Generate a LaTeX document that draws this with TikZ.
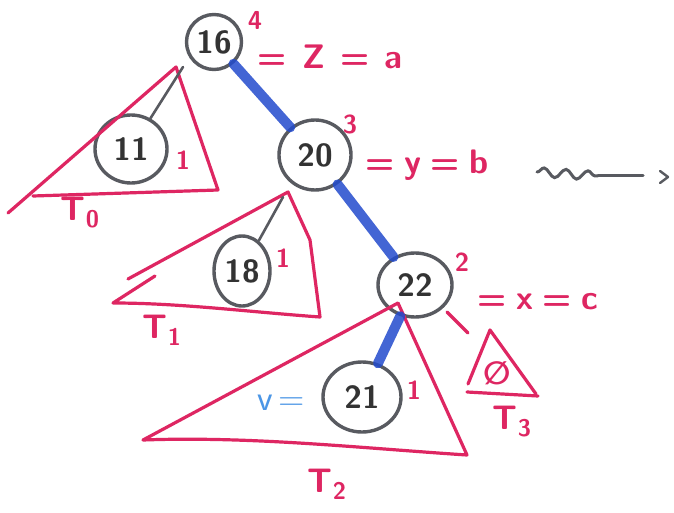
\documentclass[tikz,border=0pt]{standalone}
\usepackage{fontspec}
\newfontfamily\dejavu{DejaVu Sans}
\usetikzlibrary{shapes.geometric,decorations.pathmorphing,arrows.meta}
\definecolor{pinkink}{RGB}{222,38,98}
\definecolor{grayink}{RGB}{88,90,96}
\definecolor{blueink}{RGB}{35,75,205}
\definecolor{lightblueink}{RGB}{75,150,230}
\newcommand{\subidx}[1]{\raisebox{-7pt}{\fontsize{24}{24}\selectfont #1}}
\begin{document}
\begin{tikzpicture}[x=1pt,y=-1pt,
  keynode/.style={ellipse,draw=grayink,line width=3.4pt,inner sep=0pt,
    font=\sffamily\bfseries\fontsize{32}{32}\selectfont,text=black!80},
  treeline/.style={draw=pinkink,line width=3.2pt,line join=round,line cap=round},
  pinklabel/.style={text=pinkink,font=\sffamily\bfseries\fontsize{34}{34}\selectfont,inner sep=0pt},
  expo/.style={text=pinkink,font=\sffamily\bfseries\fontsize{26}{26}\selectfont,inner sep=0pt},
  pathedge/.style={draw=blueink,line width=10pt,line cap=round,opacity=0.85},
  childline/.style={draw=grayink,line width=2.6pt,line cap=round}]
\fill[white] (0,0) rectangle (674,513);
\useasboundingbox (0,0) rectangle (674,513);

% nodes
\node[keynode,minimum width=55pt,minimum height=55pt] (n16) at (214,42) {16};
\node[keynode,minimum width=72pt,minimum height=70pt] (n20) at (315,155) {20};
\node[keynode,minimum width=74pt,minimum height=64pt] (n22) at (415,285) {22};
\node[keynode,minimum width=72pt,minimum height=68pt] (n11) at (131,149) {11};
\node[keynode,minimum width=56pt,minimum height=70pt] (n18) at (242,271) {18};
\node[keynode,minimum width=78pt,minimum height=70pt] (n21) at (362,397) {21};

% subtree triangles
\coordinate (t0a) at (176,67);
\coordinate (t0r) at (218,190);
\coordinate (t0l) at (33,196);
\coordinate (t0e) at (8,213);
\draw[treeline] (t0e) -- (t0a) -- (t0r) -- (t0l);

\coordinate (t1a) at (288,192);
\coordinate (t1r) at (320,317);
\coordinate (t1l) at (113,303);
\draw[treeline] (128,279) -- (t1a) -- (310,240) -- (t1r) .. controls (250,312) and (180,303) .. (t1l) -- (155,276);

\coordinate (t2a) at (398,303);
\coordinate (t2r) at (467,455);
\coordinate (t2l) at (143,440);
\draw[treeline] (t2a) -- (t2l) .. controls (250,436) and (360,448) .. (t2r) -- (t2a);

\coordinate (t3a) at (490,330);
\coordinate (t3r) at (536,394);
\coordinate (t3l) at (468,384);
\draw[treeline] (t3l) -- (t3a) -- (t3r);
\draw[treeline] (467,392) -- (538,396);

% connectors
\draw[pathedge] (n16) -- (n20);
\draw[pathedge] (n20) -- (n22);
\draw[pathedge] (n22) -- (n21);
\draw[childline] (n11) -- (183,67);
\draw[childline] (n18) -- (283,197);
\coordinate (d1) at (447,312);
\coordinate (d2) at (468,333);
\draw[treeline] (d1) -- (d2);

% labels
\node[expo] (e16) at (255,20) {4};
\node[pinklabel] (l16) at (330,57) {=\;\,Z\;\,=\;\,a};
\node[expo] (e20) at (350,124) {3};
\node[pinklabel] (l20) at (427,165) {=\;y\;=\;b};
\node[expo] (e22) at (462,262) {2};
\node[pinklabel] (l22) at (538,302) {=\;x\;=\;c};
\node[expo] (e11) at (183,160) {1};
\node[expo] (e18) at (283,258) {1};
\node[expo] (e21) at (414,390) {1};
\node[text=lightblueink,font=\sffamily\fontsize{36}{36}\selectfont,inner sep=0pt] (v) at (281,403) {v\,=};
\node[text=pinkink,font=\dejavu\bfseries\fontsize{32}{32}\selectfont,inner sep=0pt] (emp) at (497,373) {∅};

\node[pinklabel] (lt0) at (80,213) {T\subidx{0}};
\node[pinklabel] (lt1) at (162,330) {T\subidx{1}};
\node[pinklabel] (lt2) at (327,484) {T\subidx{2}};
\node[pinklabel] (lt3) at (512,422) {T\subidx{3}};

% squiggly arrow
\coordinate (s1) at (537,172);
\coordinate (s2) at (598,176);
\coordinate (s3) at (643,176);
\coordinate (h1) at (660,171);
\coordinate (h2) at (668,177);
\coordinate (h3) at (660,183);
\draw[draw=grayink,line width=3pt,line cap=round,decorate,decoration={snake,amplitude=4.5pt,segment length=22pt}] (s1) -- (s2);
\draw[draw=grayink,line width=3pt,line cap=round] (s2) -- (s3);
\draw[draw=grayink,line width=2.4pt,line cap=round,line join=round] (h1) -- (h2) -- (h3);
\end{tikzpicture}
\end{document}
